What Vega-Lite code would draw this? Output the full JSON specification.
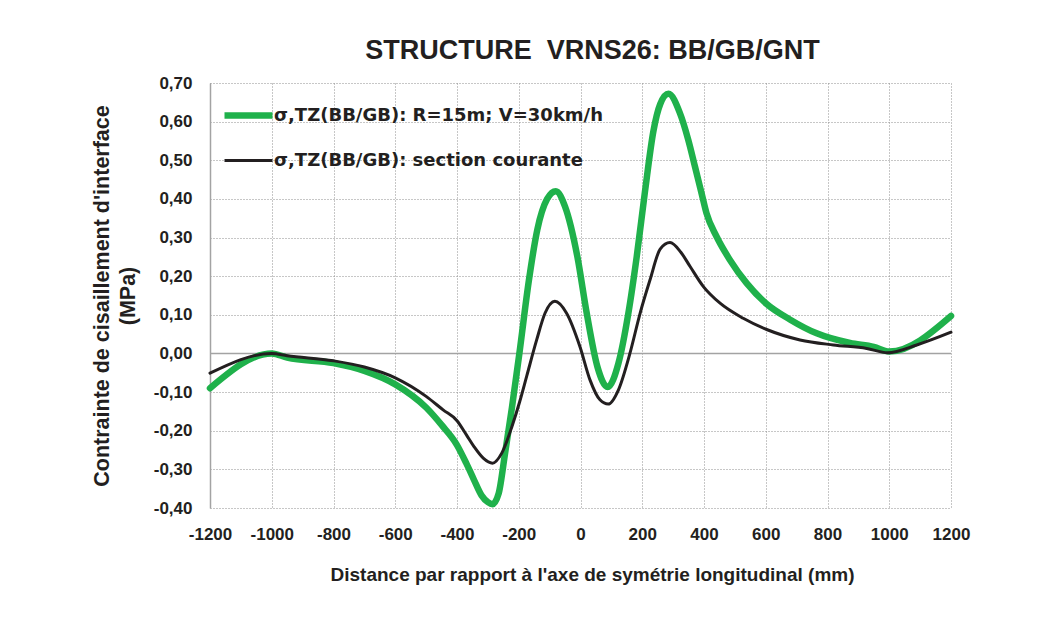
{
  "$schema": "https://vega.github.io/schema/vega-lite/v6.json",
  "width": 741,
  "height": 425,
  "autosize": {"type": "none"},
  "padding": {"left": 210, "top": 83, "right": 103, "bottom": 112},
  "background": "#ffffff",
  "config": {
    "locale": {"number": {"decimal": ",", "thousands": "", "grouping": [3], "currency": ["", ""], "minus": "-"}},
    "view": {"stroke": null},
    "font": "Liberation Sans"
  },
  "title": {
    "text": "STRUCTURE\u00a0 VRNS26: BB/GB/GNT",
    "font": "Liberation Sans",
    "fontSize": 27,
    "fontWeight": "bold",
    "color": "#231f20",
    "anchor": "middle",
    "dx": 12,
    "offset": 9
  },
  "datasets": {
    "curves": [
      {"x": -1200, "y": -0.09, "s": "σ,TZ(BB/GB): R=15m; V=30km/h"},
      {"x": -1000, "y": 0.0, "s": "σ,TZ(BB/GB): R=15m; V=30km/h"},
      {"x": -950, "y": -0.011, "s": "σ,TZ(BB/GB): R=15m; V=30km/h"},
      {"x": -800, "y": -0.025, "s": "σ,TZ(BB/GB): R=15m; V=30km/h"},
      {"x": -700, "y": -0.045, "s": "σ,TZ(BB/GB): R=15m; V=30km/h"},
      {"x": -600, "y": -0.08, "s": "σ,TZ(BB/GB): R=15m; V=30km/h"},
      {"x": -500, "y": -0.14, "s": "σ,TZ(BB/GB): R=15m; V=30km/h"},
      {"x": -450, "y": -0.185, "s": "σ,TZ(BB/GB): R=15m; V=30km/h"},
      {"x": -400, "y": -0.237, "s": "σ,TZ(BB/GB): R=15m; V=30km/h"},
      {"x": -370, "y": -0.284, "s": "σ,TZ(BB/GB): R=15m; V=30km/h"},
      {"x": -345, "y": -0.327, "s": "σ,TZ(BB/GB): R=15m; V=30km/h"},
      {"x": -320, "y": -0.368, "s": "σ,TZ(BB/GB): R=15m; V=30km/h"},
      {"x": -300, "y": -0.385, "s": "σ,TZ(BB/GB): R=15m; V=30km/h"},
      {"x": -285, "y": -0.39, "s": "σ,TZ(BB/GB): R=15m; V=30km/h"},
      {"x": -265, "y": -0.362, "s": "σ,TZ(BB/GB): R=15m; V=30km/h"},
      {"x": -245, "y": -0.262, "s": "σ,TZ(BB/GB): R=15m; V=30km/h"},
      {"x": -222, "y": -0.14, "s": "σ,TZ(BB/GB): R=15m; V=30km/h"},
      {"x": -198, "y": 0.0, "s": "σ,TZ(BB/GB): R=15m; V=30km/h"},
      {"x": -167, "y": 0.19, "s": "σ,TZ(BB/GB): R=15m; V=30km/h"},
      {"x": -140, "y": 0.32, "s": "σ,TZ(BB/GB): R=15m; V=30km/h"},
      {"x": -108, "y": 0.4, "s": "σ,TZ(BB/GB): R=15m; V=30km/h"},
      {"x": -80, "y": 0.42, "s": "σ,TZ(BB/GB): R=15m; V=30km/h"},
      {"x": -50, "y": 0.38, "s": "σ,TZ(BB/GB): R=15m; V=30km/h"},
      {"x": -10, "y": 0.25, "s": "σ,TZ(BB/GB): R=15m; V=30km/h"},
      {"x": 20, "y": 0.105, "s": "σ,TZ(BB/GB): R=15m; V=30km/h"},
      {"x": 55, "y": -0.035, "s": "σ,TZ(BB/GB): R=15m; V=30km/h"},
      {"x": 88, "y": -0.087, "s": "σ,TZ(BB/GB): R=15m; V=30km/h"},
      {"x": 123, "y": -0.025, "s": "σ,TZ(BB/GB): R=15m; V=30km/h"},
      {"x": 155, "y": 0.104, "s": "σ,TZ(BB/GB): R=15m; V=30km/h"},
      {"x": 182, "y": 0.25, "s": "σ,TZ(BB/GB): R=15m; V=30km/h"},
      {"x": 209, "y": 0.42, "s": "σ,TZ(BB/GB): R=15m; V=30km/h"},
      {"x": 236, "y": 0.575, "s": "σ,TZ(BB/GB): R=15m; V=30km/h"},
      {"x": 258, "y": 0.645, "s": "σ,TZ(BB/GB): R=15m; V=30km/h"},
      {"x": 285, "y": 0.672, "s": "σ,TZ(BB/GB): R=15m; V=30km/h"},
      {"x": 322, "y": 0.622, "s": "σ,TZ(BB/GB): R=15m; V=30km/h"},
      {"x": 349, "y": 0.553, "s": "σ,TZ(BB/GB): R=15m; V=30km/h"},
      {"x": 371, "y": 0.483, "s": "σ,TZ(BB/GB): R=15m; V=30km/h"},
      {"x": 392, "y": 0.415, "s": "σ,TZ(BB/GB): R=15m; V=30km/h"},
      {"x": 408, "y": 0.363, "s": "σ,TZ(BB/GB): R=15m; V=30km/h"},
      {"x": 441, "y": 0.302, "s": "σ,TZ(BB/GB): R=15m; V=30km/h"},
      {"x": 484, "y": 0.242, "s": "σ,TZ(BB/GB): R=15m; V=30km/h"},
      {"x": 538, "y": 0.182, "s": "σ,TZ(BB/GB): R=15m; V=30km/h"},
      {"x": 603, "y": 0.128, "s": "σ,TZ(BB/GB): R=15m; V=30km/h"},
      {"x": 678, "y": 0.088, "s": "σ,TZ(BB/GB): R=15m; V=30km/h"},
      {"x": 765, "y": 0.052, "s": "σ,TZ(BB/GB): R=15m; V=30km/h"},
      {"x": 873, "y": 0.027, "s": "σ,TZ(BB/GB): R=15m; V=30km/h"},
      {"x": 950, "y": 0.017, "s": "σ,TZ(BB/GB): R=15m; V=30km/h"},
      {"x": 1000, "y": 0.005, "s": "σ,TZ(BB/GB): R=15m; V=30km/h"},
      {"x": 1200, "y": 0.097, "s": "σ,TZ(BB/GB): R=15m; V=30km/h"},
      {"x": -1200, "y": -0.051, "s": "σ,TZ(BB/GB): section courante"},
      {"x": -1000, "y": 0.0, "s": "σ,TZ(BB/GB): section courante"},
      {"x": -950, "y": -0.006, "s": "σ,TZ(BB/GB): section courante"},
      {"x": -800, "y": -0.019, "s": "σ,TZ(BB/GB): section courante"},
      {"x": -700, "y": -0.035, "s": "σ,TZ(BB/GB): section courante"},
      {"x": -600, "y": -0.063, "s": "σ,TZ(BB/GB): section courante"},
      {"x": -500, "y": -0.111, "s": "σ,TZ(BB/GB): section courante"},
      {"x": -445, "y": -0.146, "s": "σ,TZ(BB/GB): section courante"},
      {"x": -400, "y": -0.174, "s": "σ,TZ(BB/GB): section courante"},
      {"x": -370, "y": -0.21, "s": "σ,TZ(BB/GB): section courante"},
      {"x": -345, "y": -0.241, "s": "σ,TZ(BB/GB): section courante"},
      {"x": -315, "y": -0.271, "s": "σ,TZ(BB/GB): section courante"},
      {"x": -285, "y": -0.284, "s": "σ,TZ(BB/GB): section courante"},
      {"x": -255, "y": -0.258, "s": "σ,TZ(BB/GB): section courante"},
      {"x": -222, "y": -0.189, "s": "σ,TZ(BB/GB): section courante"},
      {"x": -197, "y": -0.125, "s": "σ,TZ(BB/GB): section courante"},
      {"x": -174, "y": -0.058, "s": "σ,TZ(BB/GB): section courante"},
      {"x": -142, "y": 0.035, "s": "σ,TZ(BB/GB): section courante"},
      {"x": -115, "y": 0.104, "s": "σ,TZ(BB/GB): section courante"},
      {"x": -83, "y": 0.135, "s": "σ,TZ(BB/GB): section courante"},
      {"x": -45, "y": 0.104, "s": "σ,TZ(BB/GB): section courante"},
      {"x": -2, "y": 0.018, "s": "σ,TZ(BB/GB): section courante"},
      {"x": 31, "y": -0.069, "s": "σ,TZ(BB/GB): section courante"},
      {"x": 63, "y": -0.12, "s": "σ,TZ(BB/GB): section courante"},
      {"x": 90, "y": -0.131, "s": "σ,TZ(BB/GB): section courante"},
      {"x": 123, "y": -0.094, "s": "σ,TZ(BB/GB): section courante"},
      {"x": 160, "y": 0.0, "s": "σ,TZ(BB/GB): section courante"},
      {"x": 193, "y": 0.104, "s": "σ,TZ(BB/GB): section courante"},
      {"x": 225, "y": 0.19, "s": "σ,TZ(BB/GB): section courante"},
      {"x": 258, "y": 0.27, "s": "σ,TZ(BB/GB): section courante"},
      {"x": 290, "y": 0.287, "s": "σ,TZ(BB/GB): section courante"},
      {"x": 325, "y": 0.262, "s": "σ,TZ(BB/GB): section courante"},
      {"x": 355, "y": 0.225, "s": "σ,TZ(BB/GB): section courante"},
      {"x": 398, "y": 0.173, "s": "σ,TZ(BB/GB): section courante"},
      {"x": 452, "y": 0.13, "s": "σ,TZ(BB/GB): section courante"},
      {"x": 527, "y": 0.091, "s": "σ,TZ(BB/GB): section courante"},
      {"x": 603, "y": 0.062, "s": "σ,TZ(BB/GB): section courante"},
      {"x": 711, "y": 0.035, "s": "σ,TZ(BB/GB): section courante"},
      {"x": 819, "y": 0.022, "s": "σ,TZ(BB/GB): section courante"},
      {"x": 927, "y": 0.013, "s": "σ,TZ(BB/GB): section courante"},
      {"x": 995, "y": 0.002, "s": "σ,TZ(BB/GB): section courante"},
      {"x": 1089, "y": 0.022, "s": "σ,TZ(BB/GB): section courante"},
      {"x": 1200, "y": 0.055, "s": "σ,TZ(BB/GB): section courante"}
    ],
    "zero": [{"y": 0}]
  },
  "encoding": {
    "y": {
      "field": "y", "type": "quantitative",
      "scale": {"domain": [-0.4, 0.7], "nice": false, "zero": false},
      "axis": {
        "values": [-0.4, -0.3, -0.2, -0.1, 0, 0.1, 0.2, 0.3, 0.4, 0.5, 0.6, 0.7],
        "format": ".2f", "labelOverlap": false, "labelFlush": false,
        "title": ["Contrainte de cisaillement d'interface", "(MPa)"],
        "titleFont": "Liberation Sans", "titleFontSize": 21.5, "titleFontWeight": "bold", "titleColor": "#231f20",
        "titlePadding": 14, "titleLineHeight": 26,
        "labelFont": "Liberation Sans", "labelFontSize": 17, "labelFontWeight": "bold", "labelColor": "#231f20",
        "labelPadding": 18, "ticks": false,
        "domain": true, "domainColor": "#a3a3a3", "domainWidth": 1.5,
        "grid": true, "gridColor": "#8f8f8f", "gridDash": [1, 2], "gridWidth": 1
      }
    }
  },
  "layer": [
    {
      "data": {"name": "zero"},
      "mark": {"type": "rule", "color": "#a3a3a3", "strokeWidth": 1.5},
      "encoding": {}
    },
    {
      "data": {"name": "curves"},
      "mark": {"type": "line", "interpolate": "monotone", "strokeCap": "round", "strokeJoin": "round"},
      "encoding": {
        "x": {
          "field": "x", "type": "quantitative",
          "scale": {"domain": [-1200, 1200], "nice": false, "zero": false},
          "axis": {
            "values": [-1200, -1000, -800, -600, -400, -200, 0, 200, 400, 600, 800, 1000, 1200],
            "format": "d", "labelOverlap": false, "labelFlush": false,
            "title": "Distance par rapport à l'axe de symétrie longitudinal (mm)",
            "titleFont": "Liberation Sans", "titleFontSize": 19, "titleFontWeight": "bold", "titleColor": "#231f20",
            "titlePadding": 23, "titleX": 382,
            "labelFont": "Liberation Sans", "labelFontSize": 17, "labelFontWeight": "bold", "labelColor": "#231f20",
            "labelPadding": 18, "ticks": false, "domain": false,
            "grid": true, "gridColor": "#8f8f8f", "gridDash": [1, 2], "gridWidth": 1
          }
        },
        "color": {
          "field": "s", "type": "nominal",
          "scale": {"domain": ["σ,TZ(BB/GB): R=15m; V=30km/h", "σ,TZ(BB/GB): section courante"], "range": ["#1fb14b", "#231f20"]},
          "legend": {
            "title": null, "orient": "none", "legendX": 11, "legendY": 5,
            "symbolType": "stroke", "symbolSize": 2304,
            "labelFont": "DejaVu Sans", "labelFontSize": 18, "labelFontWeight": "bold", "labelColor": "#231f20",
            "labelLimit": 0, "labelOffset": -2, "rowPadding": 6
          }
        },
        "strokeWidth": {
          "field": "s", "type": "nominal",
          "scale": {"domain": ["σ,TZ(BB/GB): R=15m; V=30km/h", "σ,TZ(BB/GB): section courante"], "range": [6.5, 3]},
          "legend": {
            "title": null, "orient": "none", "legendX": 11, "legendY": 5,
            "symbolType": "stroke", "symbolSize": 2304,
            "labelFont": "DejaVu Sans", "labelFontSize": 18, "labelFontWeight": "bold", "labelColor": "#231f20",
            "labelLimit": 0, "labelOffset": -2, "rowPadding": 6
          }
        }
      }
    }
  ]
}
